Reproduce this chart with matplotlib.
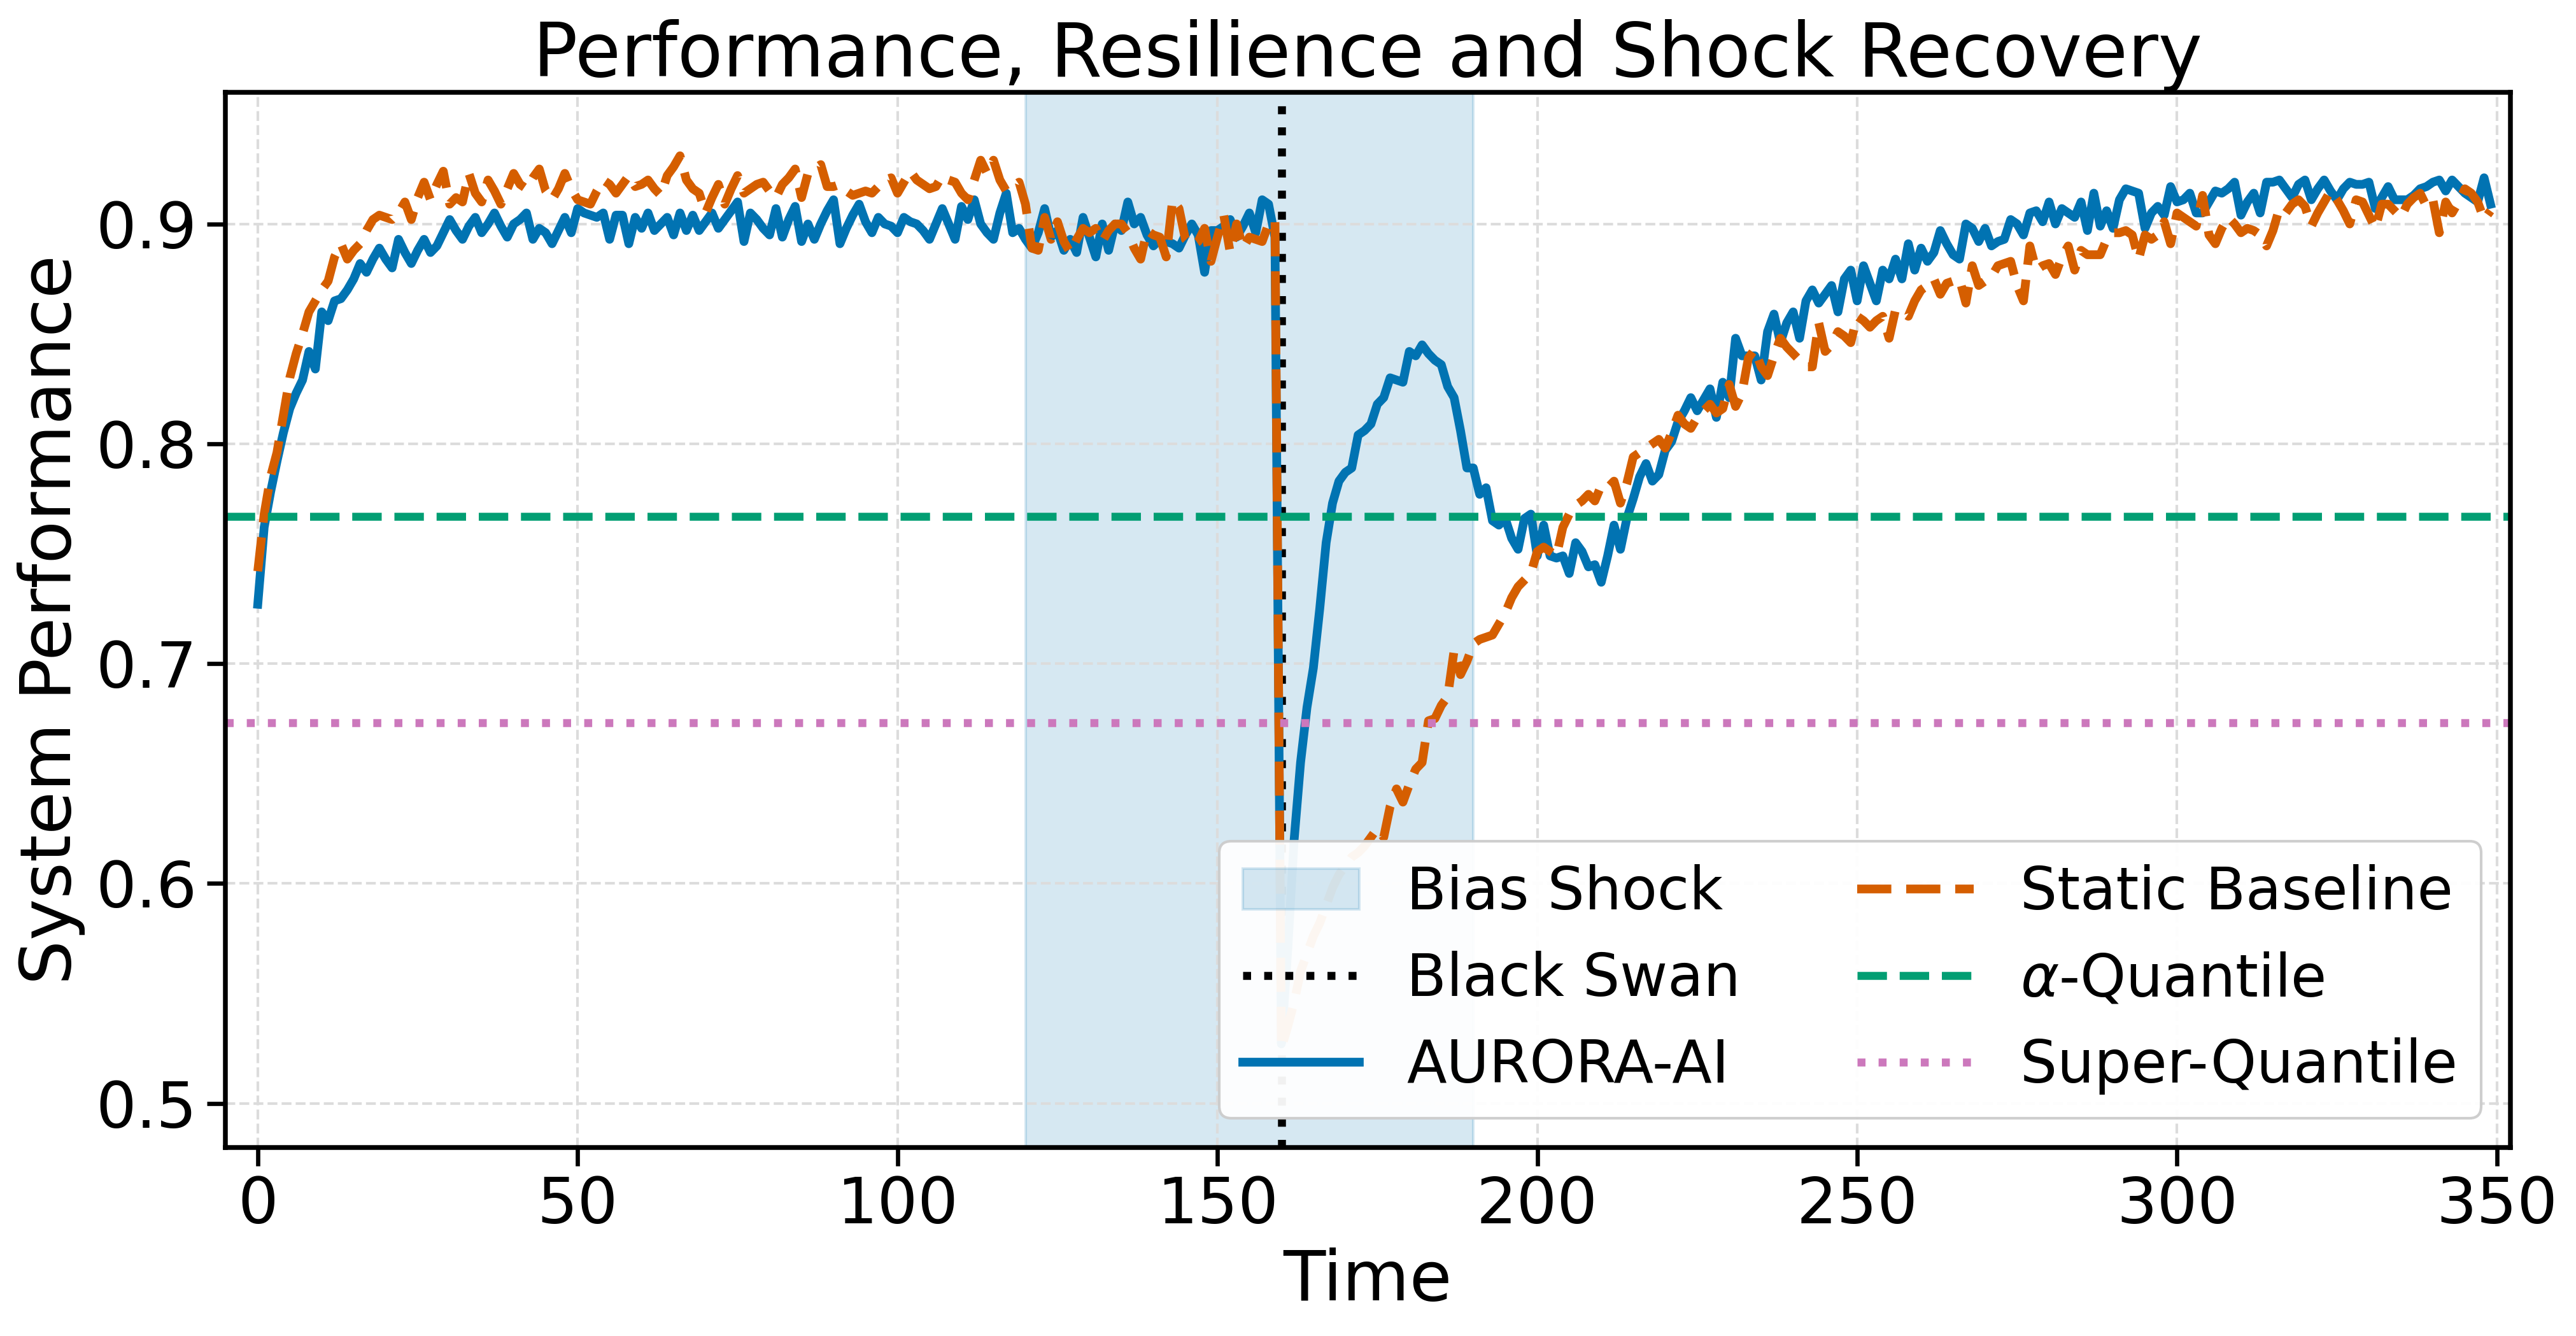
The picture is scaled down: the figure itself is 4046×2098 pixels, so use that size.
import matplotlib
matplotlib.use("Agg")
import matplotlib.pyplot as plt
import numpy as np

# AURORA-AI system performance, one value per time step
aurora_perf = [
    0.727, 0.762, 0.778, 0.792, 0.805, 0.816, 0.823, 0.829, 0.842, 0.834,
    0.860, 0.856, 0.865, 0.866, 0.870, 0.875, 0.882, 0.878, 0.884, 0.889,
    0.884, 0.880, 0.893, 0.887, 0.882, 0.888, 0.893, 0.887, 0.890, 0.896,
    0.902, 0.897, 0.893, 0.899, 0.903, 0.896, 0.900, 0.905, 0.899, 0.894,
    0.900, 0.902, 0.905, 0.893, 0.898, 0.896, 0.891, 0.897, 0.903, 0.896,
    0.907, 0.905, 0.904, 0.903, 0.905, 0.893, 0.904, 0.904, 0.891, 0.903,
    0.898, 0.905, 0.897, 0.900, 0.903, 0.895, 0.905, 0.897, 0.904, 0.897,
    0.901, 0.905, 0.898, 0.902, 0.906, 0.910, 0.892, 0.905, 0.902, 0.898,
    0.895, 0.907, 0.894, 0.902, 0.908, 0.892, 0.900, 0.893, 0.900, 0.906,
    0.911, 0.891, 0.898, 0.904, 0.909, 0.901, 0.896, 0.903, 0.900, 0.899,
    0.896, 0.903, 0.901, 0.900, 0.897, 0.893, 0.900, 0.907, 0.900, 0.893,
    0.908, 0.902, 0.911, 0.900, 0.896, 0.893, 0.905, 0.914, 0.896, 0.898,
    0.893, 0.889, 0.896, 0.907, 0.894, 0.897, 0.888, 0.893, 0.887, 0.903,
    0.894, 0.885, 0.900, 0.888, 0.900, 0.897, 0.910, 0.900, 0.903, 0.895,
    0.890, 0.893, 0.892, 0.891, 0.889, 0.895, 0.900, 0.895, 0.878, 0.897,
    0.897, 0.899, 0.902, 0.894, 0.899, 0.905, 0.896, 0.911, 0.909, 0.894,
    0.527, 0.570, 0.620, 0.655, 0.680, 0.698, 0.725, 0.755, 0.773, 0.783,
    0.787, 0.789, 0.804, 0.806, 0.809, 0.818, 0.821, 0.830, 0.829, 0.828,
    0.842, 0.840, 0.845, 0.841, 0.838, 0.836, 0.826, 0.821, 0.806, 0.789,
    0.789, 0.777, 0.780, 0.765, 0.763, 0.766, 0.757, 0.752, 0.766, 0.768,
    0.749, 0.763, 0.749, 0.748, 0.749, 0.741, 0.755, 0.751, 0.744, 0.745,
    0.737, 0.749, 0.763, 0.752, 0.766, 0.775, 0.785, 0.791, 0.783, 0.786,
    0.797, 0.801, 0.810, 0.815, 0.821, 0.815, 0.820, 0.825, 0.812, 0.828,
    0.821, 0.848, 0.840, 0.840, 0.840, 0.829, 0.851, 0.859, 0.846, 0.855,
    0.860, 0.848, 0.865, 0.870, 0.864, 0.868, 0.872, 0.860, 0.875, 0.879,
    0.865, 0.881, 0.873, 0.865, 0.879, 0.875, 0.884, 0.875, 0.891, 0.879,
    0.889, 0.883, 0.887, 0.897, 0.891, 0.886, 0.884, 0.900, 0.898, 0.892,
    0.898, 0.890, 0.892, 0.893, 0.902, 0.900, 0.895, 0.905, 0.906, 0.901,
    0.910, 0.900, 0.907, 0.905, 0.903, 0.910, 0.897, 0.914, 0.899, 0.906,
    0.898, 0.911, 0.916, 0.915, 0.914, 0.898, 0.905, 0.908, 0.904, 0.917,
    0.910, 0.911, 0.914, 0.905, 0.905, 0.910, 0.915, 0.914, 0.916, 0.919,
    0.904, 0.910, 0.914, 0.905, 0.919, 0.919, 0.920, 0.916, 0.912, 0.918,
    0.920, 0.911, 0.916, 0.920, 0.915, 0.911, 0.916, 0.919, 0.918, 0.918,
    0.919, 0.907, 0.912, 0.917, 0.911, 0.911, 0.911, 0.913, 0.916, 0.917,
    0.919, 0.920, 0.915, 0.920, 0.917, 0.914, 0.912, 0.910, 0.921, 0.909,
]

# Static baseline performance, same time steps
static_perf = [
    0.742, 0.768, 0.785, 0.796, 0.813, 0.830, 0.841, 0.850, 0.860, 0.865,
    0.870, 0.874, 0.885, 0.891, 0.884, 0.888, 0.891, 0.897, 0.902, 0.904,
    0.903, 0.902, 0.905, 0.910, 0.902, 0.912, 0.919, 0.911, 0.918, 0.924,
    0.909, 0.912, 0.910, 0.923, 0.914, 0.910, 0.920, 0.915, 0.909, 0.916,
    0.923, 0.918, 0.916, 0.921, 0.925, 0.915, 0.911, 0.916, 0.923, 0.916,
    0.911, 0.910, 0.909, 0.915, 0.920, 0.918, 0.914, 0.918, 0.922, 0.917,
    0.918, 0.920, 0.916, 0.913, 0.922, 0.926, 0.931, 0.920, 0.916, 0.914,
    0.905, 0.912, 0.918, 0.909, 0.916, 0.922, 0.914, 0.916, 0.918, 0.919,
    0.915, 0.912, 0.918, 0.921, 0.925, 0.912, 0.923, 0.925, 0.927, 0.917,
    0.917, 0.918, 0.915, 0.913, 0.914, 0.915, 0.914, 0.917, 0.920, 0.921,
    0.914, 0.919, 0.924, 0.920, 0.918, 0.916, 0.917, 0.922, 0.920, 0.919,
    0.914, 0.911, 0.920, 0.929, 0.923, 0.929, 0.920, 0.915, 0.917, 0.919,
    0.909, 0.889, 0.888, 0.903, 0.893, 0.901, 0.892, 0.887, 0.893, 0.898,
    0.896, 0.898, 0.892, 0.897, 0.900, 0.900, 0.896, 0.889, 0.884, 0.897,
    0.895, 0.894, 0.885, 0.911, 0.907, 0.893, 0.890, 0.892, 0.898, 0.883,
    0.894, 0.904, 0.887, 0.900, 0.889, 0.894, 0.893, 0.892, 0.900, 0.902,
    0.525, 0.535, 0.546, 0.560, 0.568, 0.576, 0.582, 0.590, 0.598, 0.604,
    0.608, 0.612, 0.614, 0.617, 0.621, 0.625, 0.621, 0.635, 0.643, 0.637,
    0.645, 0.652, 0.655, 0.674, 0.675, 0.681, 0.685, 0.706, 0.695, 0.701,
    0.709, 0.711, 0.712, 0.713, 0.718, 0.723, 0.730, 0.735, 0.738, 0.741,
    0.751, 0.753, 0.751, 0.749, 0.762, 0.768, 0.772, 0.774, 0.777, 0.774,
    0.781, 0.780, 0.783, 0.773, 0.782, 0.794, 0.796, 0.798, 0.800, 0.802,
    0.798, 0.805, 0.813, 0.809, 0.807, 0.812, 0.815, 0.818, 0.814, 0.816,
    0.827, 0.817, 0.823, 0.839, 0.843, 0.835, 0.831, 0.840, 0.848, 0.844,
    0.841, 0.838, 0.835, 0.835, 0.855, 0.842, 0.845, 0.851, 0.849, 0.846,
    0.858, 0.856, 0.853, 0.856, 0.858, 0.848, 0.861, 0.860, 0.858, 0.865,
    0.870, 0.872, 0.875, 0.868, 0.873, 0.874, 0.875, 0.864, 0.881, 0.872,
    0.874, 0.876, 0.881, 0.882, 0.883, 0.872, 0.865, 0.890, 0.879, 0.881,
    0.882, 0.877, 0.885, 0.890, 0.879, 0.888, 0.886, 0.886, 0.886, 0.893,
    0.896, 0.896, 0.897, 0.895, 0.884, 0.895, 0.893, 0.895, 0.901, 0.891,
    0.905, 0.903, 0.901, 0.899, 0.913, 0.895, 0.891, 0.898, 0.903, 0.900,
    0.896, 0.898, 0.897, 0.895, 0.890, 0.897, 0.907, 0.905, 0.909, 0.911,
    0.908, 0.899, 0.905, 0.910, 0.915, 0.911, 0.906, 0.900, 0.911, 0.910,
    0.904, 0.898, 0.909, 0.909, 0.906, 0.903, 0.909, 0.912, 0.914, 0.908,
    0.911, 0.896, 0.910, 0.905, 0.910, 0.916, 0.914, 0.910, 0.902, 0.906,
]

shock_start, shock_end = 120, 190
black_swan_t = 160
alpha_quantile = 0.767
super_quantile = 0.673

BLUE = "#0173B2"
ORANGE = "#D55E00"
GREEN = "#029E73"
PINK = "#CC78BC"

time_steps = np.arange(len(aurora_perf))

fig = plt.figure(figsize=(4046 / 300, 2098 / 300), dpi=300)
ax = fig.add_axes([0.0874, 0.1413, 0.9745 - 0.0874, 0.9311 - 0.1413])

ax.axvspan(shock_start, shock_end, color=BLUE, alpha=0.16, label="Bias Shock")
ax.axvline(black_swan_t, color="black", linestyle=":", linewidth=3.0, label="Black Swan")
ax.plot(time_steps, aurora_perf, color=BLUE, linewidth=3.3, label="AURORA-AI")
ax.plot(time_steps, static_perf, color=ORANGE, linewidth=3.3,
        linestyle=(0, (3.9, 1.7)), label="Static Baseline")
ax.axhline(alpha_quantile, color=GREEN, linewidth=3.0, linestyle="--",
           label=r"$\alpha$-Quantile")
ax.axhline(super_quantile, color=PINK, linewidth=3.0, linestyle=":",
           label="Super-Quantile")

ax.set_xlim(-5.1, 352.1)
ax.set_ylim(0.480, 0.960)
ax.set_xticks(np.arange(0, 351, 50))
ax.set_yticks([0.5, 0.6, 0.7, 0.8, 0.9])

ax.grid(True, color="#dcdcdc", linestyle="--", linewidth=1.0)
ax.tick_params(axis="both", labelsize=24, length=7, width=1.6, color="black")
for spine in ax.spines.values():
    spine.set_linewidth(1.8)
    spine.set_color("black")

ax.set_title("Performance, Resilience and Shock Recovery", fontsize=28)
ax.set_xlabel("Time", fontsize=26)
ax.set_ylabel("System Performance", fontsize=26.5)

ax.legend(loc="lower right", ncol=2, fontsize=22, framealpha=0.95,
          edgecolor="#cccccc", labelspacing=0.5)

fig.savefig("out.png", dpi=300)
